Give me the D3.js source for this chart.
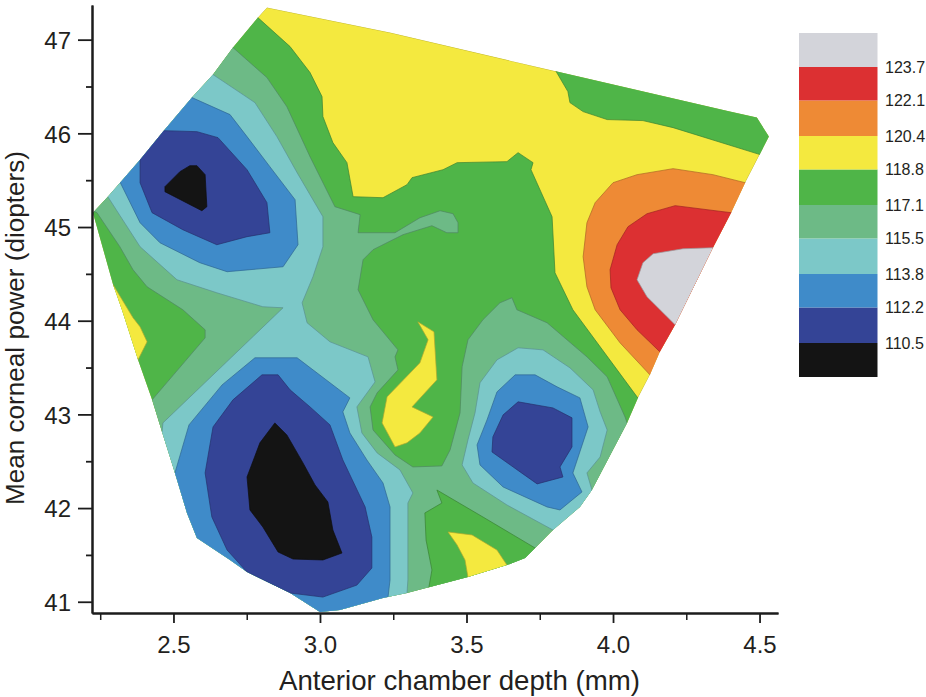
<!DOCTYPE html>
<html><head><meta charset="utf-8">
<script src="https://cdn.jsdelivr.net/npm/d3@7/dist/d3.min.js"></script>
<style>
html,body{margin:0;padding:0;background:#fff}
text{font-family:"Liberation Sans",Arial,sans-serif;fill:#231f20}
</style></head><body>
<svg id="c" width="926" height="697"></svg>
<script>
const contourLevels=[110.5,112.2,113.8,115.5,117.1,118.8,120.4,122.1,123.7];
const bandColours=["#141414","#344496","#3f8bc9","#7cc8c8","#6dba86","#4fb548","#f4e93f","#ee8a35","#dc3032","#d3d4da"];
const xMajor=[2.5,3,3.5,4,4.5];
const xMinor=[2.25,2.75,3.25,3.75,4.25];
const yMajor=[41,42,43,44,45,46,47];
const yMinor=[41.5,42.5,43.5,44.5,45.5,46.5];
const xTitle="Anterior chamber depth (mm)";
const yTitle="Mean corneal power (diopters)";

const hull=[[2.819,47.343],[3.239,47.076],[3.809,46.659],[4.399,46.232],[4.491,46.168],[4.532,45.965],[4.502,45.783],[4.451,45.473],[4.403,45.153],[4.341,44.779],[4.212,43.956],[4.160,43.668],[4.126,43.422],[4.085,43.176],[4.048,42.909],[3.928,42.193],[3.887,42.012],[3.795,41.766],[3.734,41.574],[3.700,41.467],[3.638,41.392],[3.505,41.264],[3.375,41.157],[3.297,41.093],[3.215,41.040],[3.068,40.911],[3.000,40.890],[2.898,41.093],[2.751,41.317],[2.693,41.446],[2.580,41.681],[2.546,41.948],[2.505,42.375],[2.461,42.813],[2.427,43.155],[2.379,43.582],[2.324,44.117],[2.294,44.384],[2.225,45.153],[2.276,45.324],[2.386,45.719],[2.464,46.018],[2.563,46.382],[2.635,46.627],[2.703,46.916],[2.788,47.236]];

const greenMain=[[2.788,47.236],[2.898,46.926],[2.966,46.649],[3.007,46.392],[3.010,46.179],[3.044,45.901],[3.092,45.687],[3.113,45.324],[3.215,45.313],[3.297,45.452],[3.314,45.527],[3.420,45.612],[3.468,45.687],[3.638,45.698],[3.676,45.794],[3.727,45.687],[3.720,45.612],[3.792,45.110],[3.802,44.512],[3.863,44.117],[4.082,43.187],[4.160,42.941],[4.160,40.591],[2.147,40.591],[2.147,45.505],[2.727,47.322]];
const greenTopRight=[[3.792,46.734],[3.846,46.446],[3.853,46.328],[3.898,46.232],[3.980,46.147],[4.102,46.136],[4.205,46.061],[4.502,45.773],[4.604,45.933],[4.433,46.467]];
const orangeArea=[[4.451,45.473],[4.341,45.559],[4.205,45.623],[4.082,45.559],[4.000,45.473],[3.939,45.260],[3.911,45.046],[3.898,44.683],[3.911,44.362],[3.939,44.117],[4.024,43.764],[4.126,43.422],[4.229,43.422],[4.638,45.505]];
const redArea=[[4.403,45.153],[4.321,45.185],[4.212,45.228],[4.116,45.142],[4.051,45.003],[4.014,44.811],[3.990,44.544],[3.993,44.352],[4.024,44.117],[4.082,43.903],[4.160,43.668],[4.229,43.582],[4.604,45.078]];
const greyArea=[[4.341,44.779],[4.239,44.768],[4.137,44.715],[4.102,44.619],[4.082,44.437],[4.116,44.255],[4.212,43.956],[4.365,43.956],[4.502,44.779]];
const seaGreenMain=[[2.703,46.916],[2.819,46.595],[2.887,46.285],[2.966,45.751],[3.051,45.217],[3.137,45.132],[3.130,44.939],[3.256,44.939],[3.341,45.099],[3.410,45.174],[3.454,45.142],[3.471,45.046],[3.471,44.939],[3.433,44.939],[3.382,45.014],[3.283,44.918],[3.181,44.758],[3.147,44.651],[3.130,44.330],[3.181,44.010],[3.266,43.689],[3.256,43.614],[3.266,43.475],[3.195,43.230],[3.171,43.080],[3.181,42.834],[3.256,42.567],[3.317,42.439],[3.416,42.450],[3.444,42.621],[3.478,43.016],[3.485,43.508],[3.505,43.796],[3.556,44.010],[3.614,44.191],[3.655,44.245],[3.672,44.117],[3.775,43.978],[3.911,43.614],[3.980,43.401],[4.041,42.973],[4.048,42.909],[4.109,42.834],[4.109,40.591],[2.317,40.591],[2.317,42.941],[2.427,43.155],[2.608,43.817],[2.608,43.903],[2.532,44.117],[2.410,44.362],[2.362,44.544],[2.317,44.790],[2.239,45.153],[2.181,45.238],[2.676,47.108]];
const greenBottom=[[3.399,42.193],[3.556,41.905],[3.734,41.574],[3.819,41.339],[3.358,40.911],[3.382,41.339],[3.362,41.659],[3.358,41.948],[3.416,42.054]];
const yellowBottom=[[3.437,41.745],[3.519,41.713],[3.604,41.552],[3.638,41.392],[3.666,41.178],[3.512,41.018],[3.505,41.264],[3.495,41.446],[3.468,41.606]];
const yellowCentre=[[3.334,43.988],[3.389,43.881],[3.399,43.369],[3.314,43.080],[3.386,42.973],[3.341,42.802],[3.297,42.696],[3.256,42.653],[3.212,42.909],[3.229,43.187],[3.341,43.550],[3.369,43.796]];
const yellowLeft=[[2.294,44.384],[2.362,44.031],[2.386,43.935],[2.410,43.775],[2.379,43.582],[2.283,44.010]];
const tealLeft=[[2.635,46.627],[2.727,46.435],[2.778,46.328],[2.853,45.965],[2.922,45.580],[3.010,45.110],[3.010,44.790],[2.976,44.469],[2.939,44.191],[2.956,43.978],[3.034,43.775],[3.164,43.614],[3.188,43.347],[3.126,43.080],[3.143,42.802],[3.195,42.589],[3.273,42.407],[3.317,42.161],[3.300,42.054],[3.300,41.232],[3.297,41.093],[3.297,40.591],[2.352,40.591],[2.352,42.728],[2.461,42.813],[2.464,42.909],[2.874,44.138],[2.805,44.149],[2.648,44.298],[2.512,44.437],[2.386,44.790],[2.311,45.153],[2.276,45.324],[2.232,45.399],[2.608,46.734]];
const tealRight=[[3.676,43.711],[3.761,43.689],[3.853,43.497],[3.932,43.262],[3.956,43.027],[3.980,42.834],[3.956,42.546],[3.911,42.375],[3.928,42.193],[3.973,41.980],[3.819,41.659],[3.795,41.766],[3.638,42.033],[3.522,42.268],[3.485,42.461],[3.505,42.728],[3.529,43.016],[3.546,43.337],[3.604,43.582]];
const blueUpper=[[2.563,46.382],[2.693,46.200],[2.751,45.965],[2.829,45.644],[2.915,45.292],[2.925,44.811],[2.874,44.576],[2.683,44.523],[2.590,44.619],[2.454,44.832],[2.386,45.046],[2.317,45.484],[2.266,45.612],[2.522,46.520]];
const blueLower=[[2.505,42.375],[2.553,42.888],[2.666,43.315],[2.778,43.604],[2.922,43.604],[3.102,43.176],[3.078,43.027],[3.102,42.802],[3.160,42.514],[3.215,42.268],[3.239,42.012],[3.239,41.232],[3.215,40.591],[2.420,40.591],[2.420,42.300]];
const blueRight=[[3.666,43.422],[3.734,43.422],[3.809,43.294],[3.887,43.176],[3.915,42.866],[3.863,42.375],[3.894,42.172],[3.819,41.980],[3.775,42.012],[3.625,42.225],[3.546,42.461],[3.536,42.674],[3.570,42.941],[3.604,43.240]];
const navyUpper=[[2.464,46.029],[2.580,46.018],[2.652,45.954],[2.751,45.612],[2.819,45.260],[2.829,44.939],[2.751,44.897],[2.648,44.811],[2.532,44.971],[2.427,45.153],[2.386,45.473],[2.386,45.719],[2.352,45.826]];
const navyLower=[[2.802,43.422],[2.857,43.422],[2.898,43.262],[2.966,43.080],[3.034,42.888],[3.078,42.514],[3.154,42.012],[3.177,41.691],[3.177,41.360],[3.126,41.178],[3.010,41.050],[2.898,41.093],[2.751,41.317],[2.683,41.552],[2.631,41.905],[2.608,42.375],[2.635,42.866],[2.703,43.155]];
const navyRight=[[3.676,43.134],[3.795,43.069],[3.860,42.963],[3.860,42.653],[3.819,42.439],[3.829,42.332],[3.741,42.258],[3.683,42.386],[3.587,42.599],[3.590,42.760],[3.625,42.995]];
const blackUpper=[[2.556,45.655],[2.580,45.655],[2.608,45.559],[2.614,45.217],[2.597,45.174],[2.471,45.377],[2.471,45.431],[2.522,45.591]];
const blackLower=[[2.846,42.909],[2.887,42.781],[2.942,42.482],[2.983,42.247],[3.027,42.065],[3.044,41.766],[3.075,41.520],[3.010,41.446],[2.908,41.456],[2.857,41.531],[2.805,41.798],[2.761,41.980],[2.751,42.332],[2.795,42.696]];

// painted in this order, each region with a response value inside its band
const regions=[[hull,119.6],[greenMain,118],[greenTopRight,118],[orangeArea,121],[redArea,122.9],[greyArea,124],
 [seaGreenMain,116.3],[greenBottom,118],[yellowBottom,119.6],[yellowCentre,119.6],[yellowLeft,119.6],
 [tealLeft,114.6],[tealRight,114.6],[blueUpper,113],[blueLower,113],[blueRight,113],
 [navyUpper,111.3],[navyLower,111.3],[navyRight,111.3],[blackUpper,110],[blackLower,110]];

const svg=d3.select("#c");
const x=d3.scaleLinear().domain([2.222,4.563]).range([92,778]);
const y=d3.scaleLinear().domain([40.88,47.37]).range([613,5]);
const colour=d3.scaleThreshold().domain(contourLevels).range(bandColours);
const line=d3.line().x(d=>x(d[0])).y(d=>y(d[1])).curve(d3.curveLinearClosed);

svg.append("clipPath").attr("id","hull").append("path").attr("d",line(hull));
const plot=svg.append("g").attr("clip-path","url(#hull)");
plot.selectAll("path").data(regions).join("path")
 .attr("d",d=>line(d[0]))
 .attr("fill",d=>colour(d[1]))
 .attr("stroke",d=>d3.color(colour(d[1])).darker(0.9))
 .attr("stroke-width",0.7)
 .attr("stroke-linejoin","round");

function styleAxis(g,w){
 g.selectAll("path.domain").attr("stroke","#1c1c1c").attr("stroke-width",2);
 g.selectAll(".tick line").attr("stroke","#1c1c1c").attr("stroke-width",w);
 g.selectAll("text").style("font-family",'"Liberation Sans",Arial,sans-serif').attr("fill","#231f20");
}
const xAxisG=svg.append("g").attr("transform","translate(0,613)");
xAxisG.call(d3.axisBottom(x).tickValues(xMajor).tickFormat(d3.format(".1f")).tickSize(10).tickSizeOuter(0).tickPadding(13));
xAxisG.selectAll("text").style("font-size","24px");
styleAxis(xAxisG,1.8);
const xMinorG=svg.append("g").attr("transform","translate(0,613)");
xMinorG.call(d3.axisBottom(x).tickValues(xMinor).tickFormat("").tickSize(7).tickSizeOuter(0));
styleAxis(xMinorG,1.5);

const yAxisG=svg.append("g").attr("transform","translate(92,0)");
yAxisG.call(d3.axisLeft(y).tickValues(yMajor).tickFormat(d3.format("d")).tickSize(14).tickSizeOuter(0).tickPadding(7));
yAxisG.selectAll("text").style("font-size","24px").attr("dy","0.37em");
styleAxis(yAxisG,1.8);
const yMinorG=svg.append("g").attr("transform","translate(92,0)");
yMinorG.call(d3.axisLeft(y).tickValues(yMinor).tickFormat("").tickSize(6).tickSizeOuter(0));
styleAxis(yMinorG,1.8);

svg.append("text").attr("x",459.5).attr("y",690).attr("text-anchor","middle").style("font-size","28px").attr("textLength",361).attr("lengthAdjust","spacingAndGlyphs").text(xTitle);
svg.append("text").attr("transform","translate(23.5,328) rotate(-90)").attr("text-anchor","middle").style("font-size","25.5px").attr("textLength",354).attr("lengthAdjust","spacingAndGlyphs").text(yTitle);

// legend
const legendY=d3.scaleLinear().domain([110.5,123.7]).range([343,67]);
const legend=svg.append("g");
bandColours.forEach((c,i)=>{
 const lo=contourLevels[i-1], hi=contourLevels[i];
 const y0=hi===undefined?33:legendY(hi), y1=lo===undefined?377:legendY(lo);
 legend.append("rect").attr("x",799).attr("width",78.5).attr("y",y0).attr("height",y1-y0).attr("fill",c);
});
legend.selectAll("text").data(contourLevels).join("text")
 .attr("x",885).attr("y",d=>legendY(d)+6).style("font-size","16px").text(d=>d.toFixed(1));
</script>
</body></html>
